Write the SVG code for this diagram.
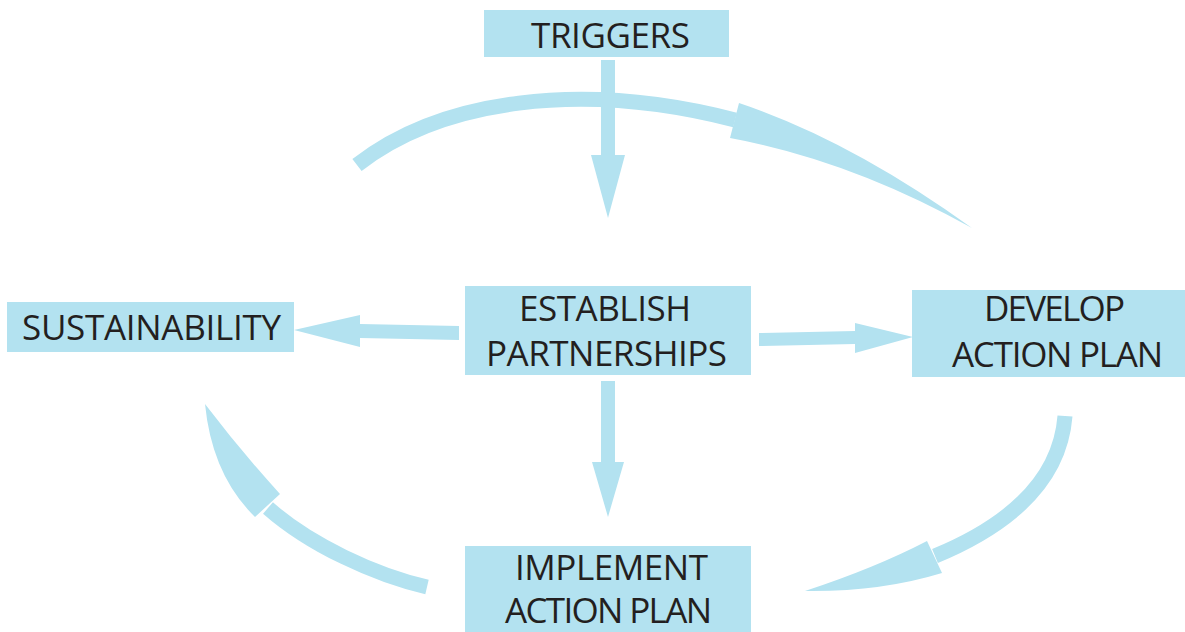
<svg xmlns="http://www.w3.org/2000/svg" width="1185" height="632" viewBox="0 0 1185 632">
<style>
.box{fill:#b3e2f0}
.lbl{font-family:"Open Sans","Noto Sans",sans-serif;font-size:35px;fill:#231f20;text-anchor:middle}
.arr{fill:#b3e2f0}
.shaft{fill:none;stroke:#b3e2f0;stroke-width:15;stroke-linecap:butt}
</style>
<rect width="1185" height="632" fill="#ffffff"/>
<g id="connectors">
<path class="shaft" d="M357,165 C440,100 580,80 735,120"/>
<path class="arr" d="M739,103 Q850,140 972,228 Q850,160 730,138 Z"/>
<path class="shaft" d="M1065,416 C1060,480 1010,525 935,556"/>
<path class="arr" d="M927,541 Q875,568 805,591 Q880,592 942,573 Z"/>
<path class="shaft" d="M427,587 C375,575 310,545 268,508"/>
<path class="arr" d="M280,494 Q240,450 205,404 Q212,475 255,517 Z"/>
<path class="arr" d="M601,60 L615,60 L615,155 L625,155 L608,218 L591,155 L601,155 Z"/>
<path class="arr" d="M601,381 L615,381 L615,462 L624,462 L608,517 L592,462 L601,462 Z"/>
<path class="arr" d="M459,326 L360,324 L360,315 L294,330 L360,347 L360,338 L459,340 Z"/>
<path class="arr" d="M759,333 L855,331 L855,323 L913,337 L855,353 L855,344 L759,346 Z"/>
</g>
<g id="triggers">
<rect class="box" x="484" y="10" width="245" height="47"/>
<text class="lbl" x="610.5" y="48" textLength="159">TRIGGERS</text>
</g>
<g id="sustainability">
<rect class="box" x="7" y="302" width="287" height="50"/>
<text class="lbl" x="151.5" y="340" textLength="259">SUSTAINABILITY</text>
</g>
<g id="establish">
<rect class="box" x="465" y="286" width="286" height="89"/>
<text class="lbl" x="605" y="321" textLength="172">ESTABLISH</text>
<text class="lbl" x="606.5" y="366" textLength="241">PARTNERSHIPS</text>
</g>
<g id="develop">
<rect class="box" x="912" y="290" width="273" height="87"/>
<text class="lbl" x="1054.5" y="321" textLength="141">DEVELOP</text>
<text class="lbl" x="1057.5" y="367" textLength="211">ACTION PLAN</text>
</g>
<g id="implement">
<rect class="box" x="465" y="546" width="286" height="86"/>
<text class="lbl" x="611.5" y="580" textLength="193">IMPLEMENT</text>
<text class="lbl" x="608.5" y="623" textLength="207">ACTION PLAN</text>
</g>
</svg>
